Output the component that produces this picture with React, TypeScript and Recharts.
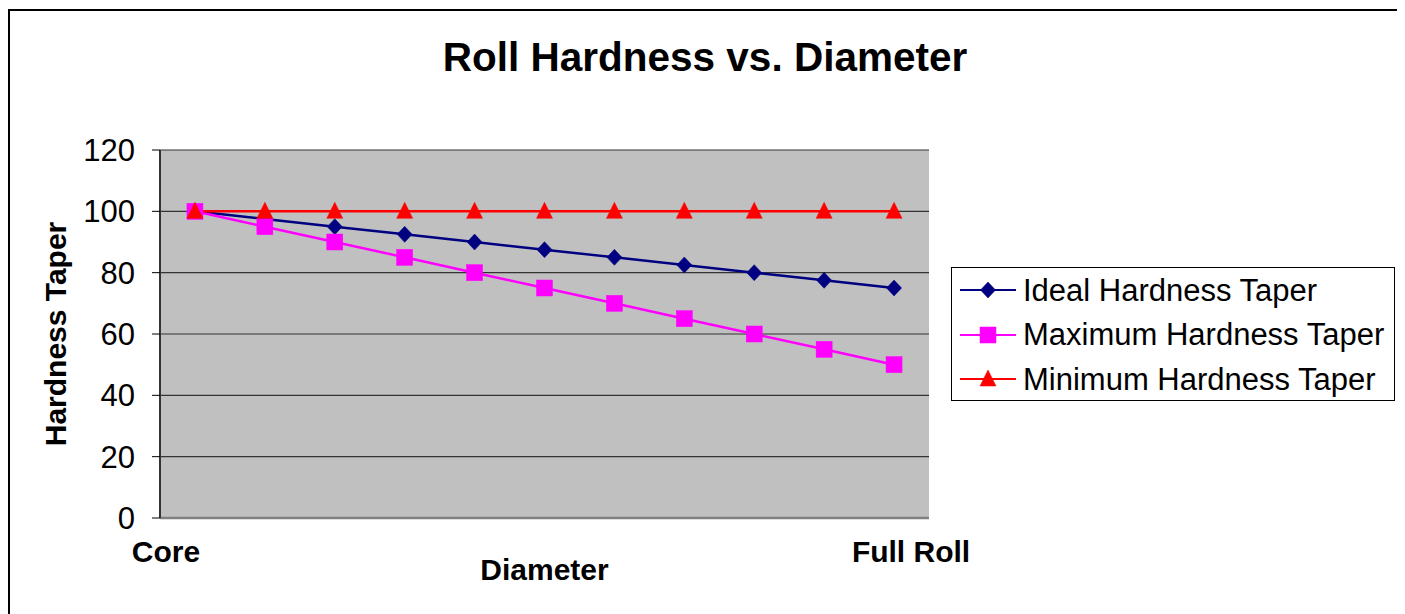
import React from 'react';
import { LineChart, Line, XAxis, YAxis, CartesianGrid, Legend, Label } from 'recharts';

// ---- data ----
const steps = [0, 1, 2, 3, 4, 5, 6, 7, 8, 9, 10];
const tickLabels = ['Core', '', '', '', '', '', '', '', '', '', 'Full Roll'];
const idealTaper = [100, 97.5, 95, 92.5, 90, 87.5, 85, 82.5, 80, 77.5, 75];
const maximumTaper = [100, 95, 90, 85, 80, 75, 70, 65, 60, 55, 50];
const minimumTaper = [100, 100, 100, 100, 100, 100, 100, 100, 100, 100, 100];
const yTicks = [0, 20, 40, 60, 80, 100, 120];
const seriesNames = ['Ideal Hardness Taper', 'Maximum Hardness Taper', 'Minimum Hardness Taper'];

const data = steps.map((s, i) => ({
  step: s,
  ideal: idealTaper[i],
  maximum: maximumTaper[i],
  minimum: minimumTaper[i],
}));

const FONT = '"Liberation Sans", Arial, Helvetica, sans-serif';

const SERIES = [
  { key: 'ideal', name: seriesNames[0], color: '#000080', shape: 'diamond' },
  { key: 'maximum', name: seriesNames[1], color: '#FF00FF', shape: 'square' },
  { key: 'minimum', name: seriesNames[2], color: '#FF0000', shape: 'triangle' },
];

function Marker({ shape, cx, cy, color }: { shape: string; cx: number; cy: number; color: string }) {
  if (cx == null || cy == null) return null;
  if (shape === 'diamond') {
    return (
      <polygon
        points={`${cx},${cy - 8} ${cx + 7.5},${cy} ${cx},${cy + 8} ${cx - 7.5},${cy}`}
        fill={color}
        stroke={color}
        strokeWidth={0.5}
      />
    );
  }
  if (shape === 'square') {
    return <rect x={cx - 8} y={cy - 8} width={16} height={16} fill={color} stroke={color} strokeWidth={0.5} />;
  }
  return (
    <polygon
      points={`${cx},${cy - 9} ${cx + 8},${cy + 7} ${cx - 8},${cy + 7}`}
      fill={color}
      stroke={color}
      strokeWidth={0.5}
    />
  );
}

const makeDot = (shape: string, color: string) => (props: any) => (
  <Marker key={`${shape}-${props.index}`} shape={shape} cx={props.cx} cy={props.cy} color={color} />
);

function XTick(props: any) {
  const { x, y, index } = props;
  const label = tickLabels[index] ?? '';
  if (!label) return <g />;
  const last = tickLabels.length - 1;
  const dx = index === 0 ? -29 : index === last ? 17 : 0;
  return (
    <text
      x={x + dx}
      y={y + 44}
      textAnchor="middle"
      fontFamily={FONT}
      fontSize={30}
      fontWeight="bold"
      fill="#000"
    >
      {label}
    </text>
  );
}

function YTitle(props: any) {
  const vb = props.viewBox || {};
  const cx = 47;
  const cy = (vb.y ?? 0) + (vb.height ?? 0) / 2;
  return (
    <text
      x={cx}
      y={cy}
      transform={`rotate(-90, ${cx}, ${cy})`}
      textAnchor="middle"
      dominantBaseline="central"
      fontFamily={FONT}
      fontSize={30}
      fontWeight="bold"
      fill="#000"
    >
      Hardness Taper
    </text>
  );
}

function LegendBox(props: any) {
  const payload = (props.payload && props.payload.length ? props.payload : SERIES.map((s) => ({ dataKey: s.key, value: s.name, color: s.color })));
  return (
    <div
      style={{
        boxSizing: 'border-box',
        width: 444,
        height: 134,
        border: '1px solid #000',
        background: '#fff',
        fontFamily: FONT,
      }}
    >
      {payload.map((p: any) => {
        const s = SERIES.find((q) => q.key === p.dataKey) || SERIES[0];
        return (
          <div key={s.key} style={{ height: 44.5, display: 'flex', alignItems: 'center' }}>
            <svg width={56} height={20} style={{ marginLeft: 8, flex: 'none' }}>
              <line x1={0} y1={10} x2={56} y2={10} stroke={s.color} strokeWidth={2} />
              <Marker shape={s.shape} cx={28} cy={10} color={s.color} />
            </svg>
            <span style={{ marginLeft: 7, fontSize: 31, color: '#000', whiteSpace: 'nowrap', lineHeight: 1 }}>
              {p.value}
            </span>
          </div>
        );
      })}
    </div>
  );
}

export default function App() {
  return (
    <div style={{ position: 'relative', width: 1394, height: 606, overflow: 'hidden', fontFamily: FONT }}>
      <LineChart
        width={1394}
        height={606}
        data={data}
        margin={{ top: 142, right: 473, bottom: 0, left: 0 }}
      >
        <CartesianGrid vertical={false} stroke="#333" strokeWidth={1.2} fill="#C0C0C0" fillOpacity={1} />
        <XAxis
          dataKey="step"
          type="category"
          scale="band"
          interval={0}
          height={96}
          tickLine={false}
          tickSize={0}
          tickMargin={0}
          axisLine={{ stroke: '#808080', strokeWidth: 2.5 }}
          tick={<XTick />}
        >
          <Label
            value="Diameter"
            position="insideBottom"
            offset={34}
            style={{ fontFamily: FONT, fontSize: 30, fontWeight: 'bold', fill: '#000' }}
          />
        </XAxis>
        <YAxis
          domain={[0, 120]}
          ticks={yTicks}
          interval={0}
          width={152}
          tickSize={8}
          tickMargin={17}
          tickLine={{ stroke: '#000', strokeWidth: 1 }}
          axisLine={{ stroke: '#333', strokeWidth: 2 }}
          tick={{ fontFamily: FONT, fontSize: 31, fill: '#000' }}
        >
          <Label content={<YTitle />} />
        </YAxis>
        <YAxis
          yAxisId="r"
          orientation="right"
          domain={[0, 120]}
          width={0}
          tick={false}
          tickLine={false}
          axisLine={{ stroke: '#808080', strokeWidth: 2.5 }}
        />
        {SERIES.map((s) => (
          <Line
            key={s.key}
            type="linear"
            dataKey={s.key}
            name={s.name}
            stroke={s.color}
            strokeWidth={2.5}
            dot={makeDot(s.shape, s.color)}
            activeDot={false}
            isAnimationActive={false}
          />
        ))}
        <Legend
          layout="vertical"
          align="center"
          verticalAlign="middle"
          wrapperStyle={{ left: 943, top: 259, width: 444, height: 134 }}
          content={<LegendBox />}
        />
      </LineChart>
      <div
        style={{
          position: 'absolute',
          left: 0,
          top: 29,
          width: 1394,
          textAlign: 'center',
          fontSize: 40.5,
          lineHeight: '40px',
          fontWeight: 'bold',
          color: '#000',
          fontFamily: FONT,
        }}
      >
        Roll Hardness vs. Diameter
      </div>
      <div
        style={{
          position: 'absolute',
          left: 0,
          top: 1,
          width: 1395,
          height: 700,
          boxSizing: 'border-box',
          border: '2px solid #000',
          pointerEvents: 'none',
        }}
      />
    </div>
  );
}
